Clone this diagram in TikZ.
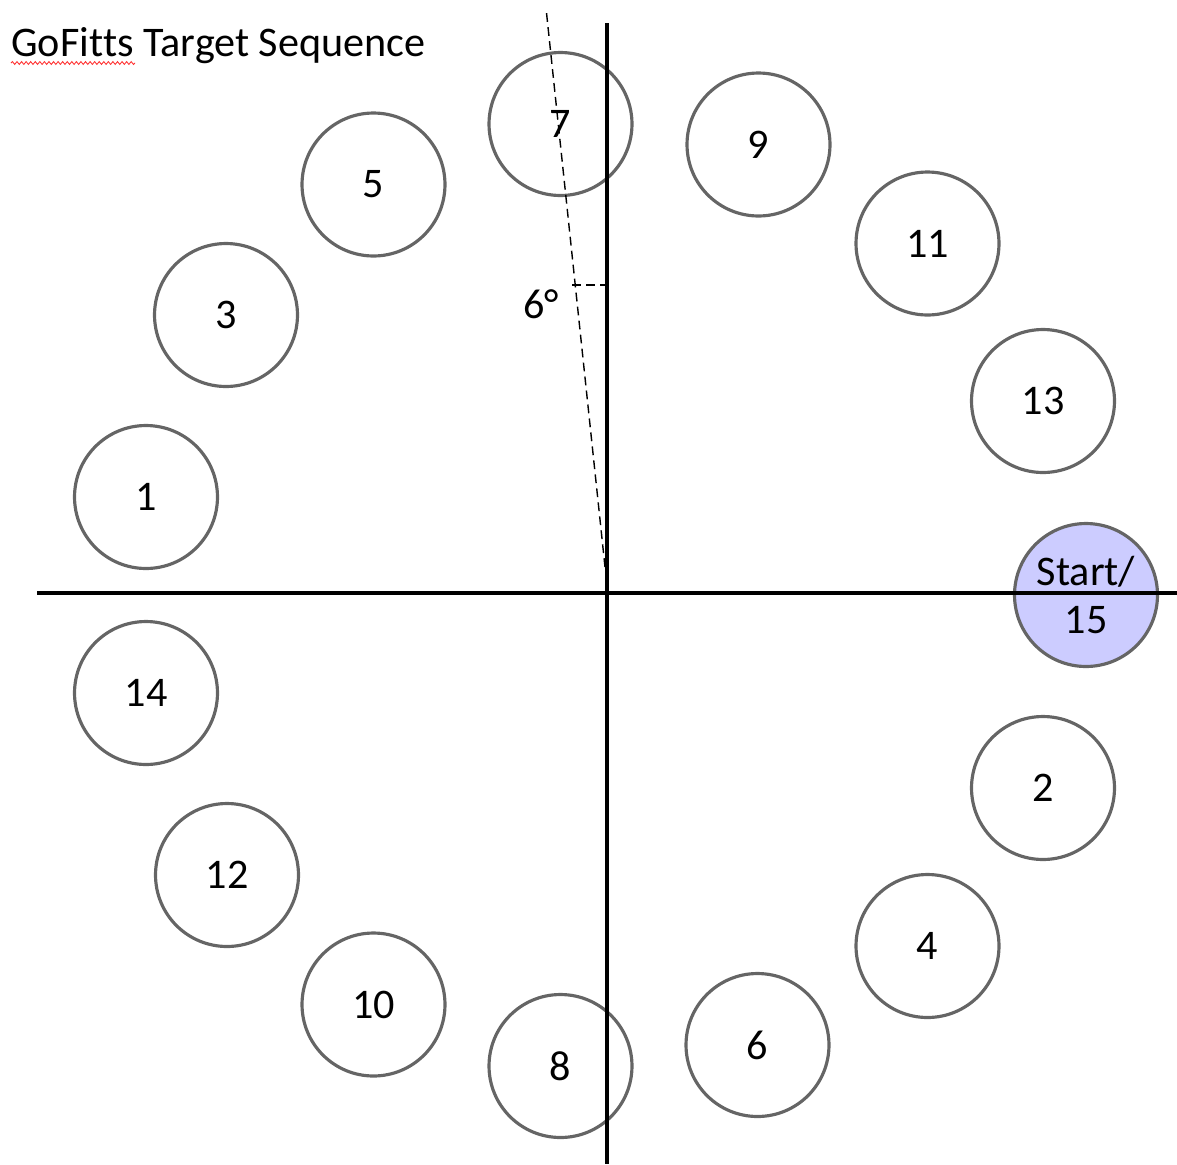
\documentclass[tikz,border=0pt]{standalone}
\usepackage{fontspec}
\setmainfont[Ligatures=NoCommon,Contextuals=NoAlternate]{Carlito}
\usetikzlibrary{decorations.pathmorphing}
\definecolor{circgray}{HTML}{656565}
\definecolor{startfill}{HTML}{CCCCFF}
\begin{document}
\begin{tikzpicture}[x=0.02cm,y=-0.02cm,
  target/.style={circle,draw=circgray,line width=1.8pt,minimum size=2.86cm,inner sep=0pt,
    font=\fontsize{24}{27.2}\selectfont,align=center},
  axisline/.style={line width=2.3pt,black},
  guide/.style={line width=0.8pt,black,dash pattern=on 5pt off 3pt},
  lbl/.style={font=\fontsize{24}{27.2}\selectfont,inner sep=0pt}]
\useasboundingbox (0,0) rectangle (1177,1164);

% targets
\node[target] (c7)  at (560.5,124)   {7};
\node[target] (c9)  at (758.5,144.5) {9};
\node[target] (c5)  at (373.5,184.5) {5};
\node[target] (c11) at (927.5,243.5) {11};
\node[target] (c3)  at (226,315)     {3};
\node[target] (c13) at (1043,401)    {13};
\node[target] (c1)  at (146,497)     {1};
\node[target,fill=startfill] (c15) at (1086,595) {Start/\\15};
\node[target] (c14) at (146,693)     {14};
\node[target] (c2)  at (1043,788)    {2};
\node[target] (c12) at (227,875)     {12};
\node[target] (c4)  at (927.5,946)   {4};
\node[target] (c10) at (373.5,1004.5){10};
\node[target] (c6)  at (757.5,1045)  {6};
\node[target] (c8)  at (560.5,1066)  {8};

% axes
\coordinate (vtop) at (607,23);
\coordinate (vbot) at (607,1164);
\coordinate (hleft) at (37,593);
\coordinate (hright) at (1177,593);
\draw[axisline] (vtop) -- (vbot);
\draw[axisline] (hleft) -- (hright);

% 6 degree guide
\coordinate (gbase) at (605,567);
\coordinate (gtop) at (546,8);
\draw[guide] (gbase) -- (gtop);
\coordinate (mleft) at (572,285);
\coordinate (mright) at (605,285);
\draw[guide] (mleft) -- (mright);
\node[lbl] (ang) at (541,304) {6°};

% title
\node[lbl,anchor=base west] (title) at (11,56) {GoFit\kern0ptts Target Sequence};
\coordinate (wl) at (11,63);
\coordinate (wr) at (135,63);
\draw[red!80,line width=0.5pt,decorate,decoration={snake,amplitude=0.8pt,segment length=2.6pt}] (wl) -- (wr);
\end{tikzpicture}
\end{document}
